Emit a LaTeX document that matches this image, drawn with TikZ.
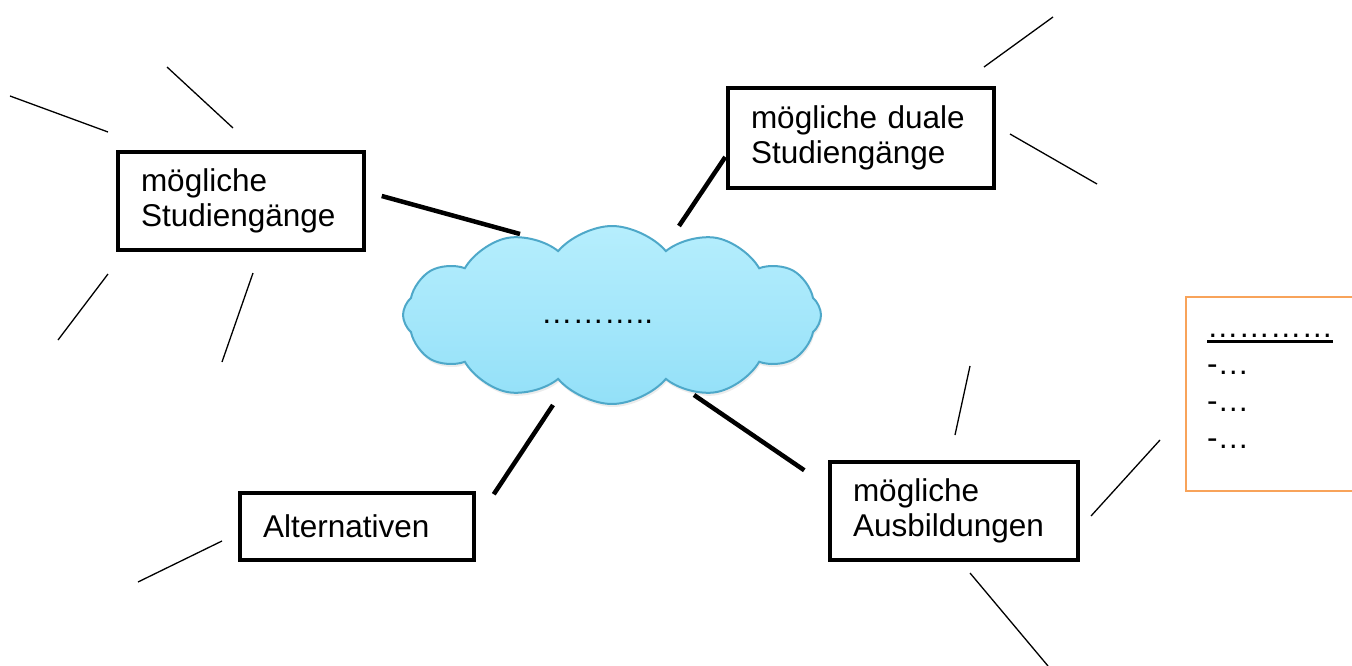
\documentclass[tikz,border=0pt]{standalone}
\usepackage{fontspec}
\setmainfont{Liberation Sans}
\usepackage{tikz}
\usepackage{xcolor}
\usetikzlibrary{shapes.symbols,shadows}

\definecolor{cloudtop}{HTML}{B6EEFD}
\definecolor{cloudbot}{HTML}{93E0F8}
\definecolor{cloudline}{HTML}{4EA8C9}
\definecolor{listorange}{HTML}{F8A35A}

\newcommand{\thickul}[1]{\setbox0\hbox{#1}\rlap{\rule[-5pt]{\wd0}{2.8pt}}\box0}

\tikzset{
  topic/.style={draw=black, line width=3.5pt, fill=white, rectangle, align=left,
    inner xsep=23pt, inner ysep=0pt, font=\fontsize{31.5}{35}\selectfont},
  link/.style={line width=4.5pt},
  ray/.style={line width=1.3pt},
}

\begin{document}
\begin{tikzpicture}[x=1pt,y=-1pt]
                \useasboundingbox (0,0) rectangle (1352,666);
                \node[cloud, cloud puffs=12, cloud puff arc=100, aspect=2.3,
                  minimum width=418, minimum height=178, inner sep=0pt,
                  top color=cloudtop, bottom color=cloudbot, draw=cloudline, line width=2pt,
                  drop shadow={opacity=0.15, shadow xshift=1pt, shadow yshift=-3pt}] (cloud) at (612,315) {};
                \node[font=\fontsize{31.5}{35}\selectfont, inner sep=0pt] (clouddots) at ([shift={(-15,7)}]cloud.center) {………..};
                \node[topic, minimum width=246, minimum height=98, text width=200] (studien) at (241,201) {mögliche\\Studiengänge};
                \node[topic, minimum width=266, minimum height=100, text width=220] (duale) at (861,138) {mögliche duale\\Studiengänge};
                \node[topic, minimum width=234, minimum height=67, text width=188] (alt) at (357,526.5) {Alternativen};
                \node[topic, minimum width=248, minimum height=98, text width=202] (ausb) at (954,511) {mögliche\\Ausbildungen};
                \node[draw=listorange, line width=1.5pt, rectangle, anchor=north west,
                  minimum width=200, minimum height=194] (liste) at (1185,296) {};
                \node[anchor=north west, align=left, inner sep=0pt,
                  font=\fontsize{31.5}{37}\selectfont] (listtext) at ([shift={(22,38)}]liste.north west)
                  {\thickul{…………}\\-…\\-…\\-…};
                \draw[link] ([shift={(16,-5)}]studien.east) -- ([shift={(-92,-81)}]cloud.center);
                \draw[link] ([shift={(67,-89)}]cloud.center) -- ([shift={(-1,19)}]duale.west);
                \draw[link] ([shift={(18,3)}]alt.north east) -- ([shift={(-59,90)}]cloud.center);
                \draw[link] ([shift={(82,80)}]cloud.center) -- ([shift={(-24,10)}]ausb.north west);
                \foreach \a/\b in {{(10,96)}/{(108,132)}, {(167,67)}/{(233,128)}, {(108,274)}/{(58,340)},
                  {(253,273)}/{(222,362)}, {(984,67)}/{(1053,17)}, {(1010,134)}/{(1097,184)},
                  {(222,541)}/{(138,582)}, {(970,366)}/{(955,435)}, {(1160,440)}/{(1091,516)},
                  {(970,573)}/{(1048,666)}}
                  \draw[ray] \a -- \b;
            \end{tikzpicture}
\end{document}
